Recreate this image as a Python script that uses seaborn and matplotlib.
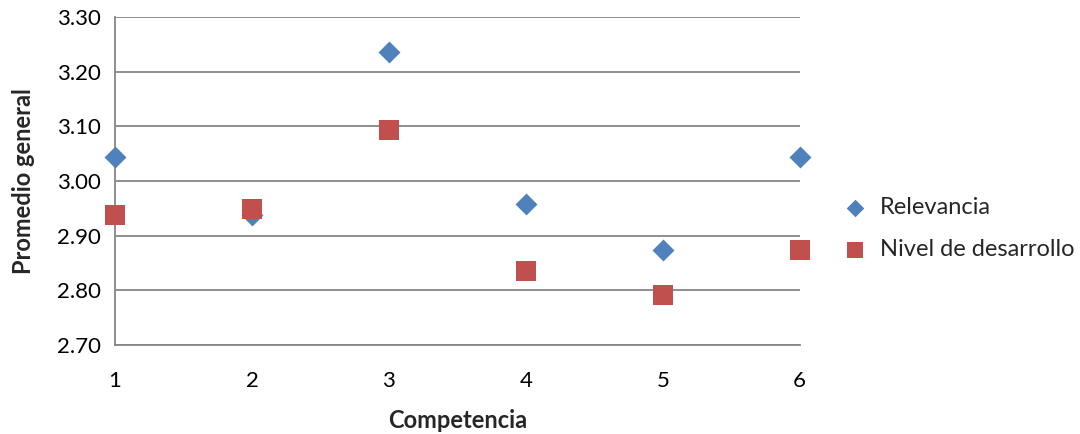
import pandas as pd
import numpy as np
import matplotlib
matplotlib.use("Agg")
import matplotlib.pyplot as plt
import seaborn as sns

competencia = [1, 2, 3, 4, 5, 6]
relevancia = [3.043, 2.937, 3.235, 2.958, 2.873, 3.044]
nivel_desarrollo = [2.938, 2.949, 3.094, 2.835, 2.792, 2.874]
y_ticks = [2.70, 2.80, 2.90, 3.00, 3.10, 3.20, 3.30]

df_rel = pd.DataFrame({'Competencia': competencia, 'Promedio': relevancia})
df_niv = pd.DataFrame({'Competencia': competencia, 'Promedio': nivel_desarrollo})

sns.set_style('white')
plt.rcParams['font.family'] = ['Lato', 'DejaVu Sans']

fig = plt.figure(figsize=(10.8, 4.34), dpi=100)
ax = fig.add_axes([0.1065, 0.205, 0.634, 0.756])

# diamonds drawn smaller so both series look the same width
sns.scatterplot(data=df_rel, x='Competencia', y='Promedio', color='#4F81BD', marker='D',
                s=125, linewidth=0, clip_on=False, zorder=3, ax=ax, label='Relevancia')
sns.scatterplot(data=df_niv, x='Competencia', y='Promedio', color='#C0504D', marker='s',
                s=220, linewidth=0, clip_on=False, zorder=4, ax=ax, label='Nivel de desarrollo')

ax.set_xlim(1, 6)
ax.set_ylim(2.70, 3.30)
ax.set_yticks(y_ticks)
ax.set_yticklabels([f'{v:.2f}' for v in y_ticks])
ax.set_xticks(competencia)
ax.yaxis.grid(True, color='#868686', linewidth=1.3)
ax.set_axisbelow(True)
for side in ['top', 'right']:
    ax.spines[side].set_visible(False)
for side in ['left', 'bottom']:
    ax.spines[side].set_color('#868686')
    ax.spines[side].set_linewidth(1.3)
ax.tick_params(axis='both', labelsize=16, length=0, colors='#000000')
ax.tick_params(axis='x', pad=19)
ax.tick_params(axis='y', pad=10)

ax.set_xlabel('Competencia', fontsize=17, fontweight='bold', labelpad=13)
ax.set_ylabel('Promedio general', fontsize=17, fontweight='bold', labelpad=16)

leg = ax.legend(loc='center left', bbox_to_anchor=(1.015, 0.355), frameon=False,
                fontsize=17, handletextpad=0.05, labelspacing=0.9, markerscale=0.8)

fig.savefig('out.png', dpi=100)
